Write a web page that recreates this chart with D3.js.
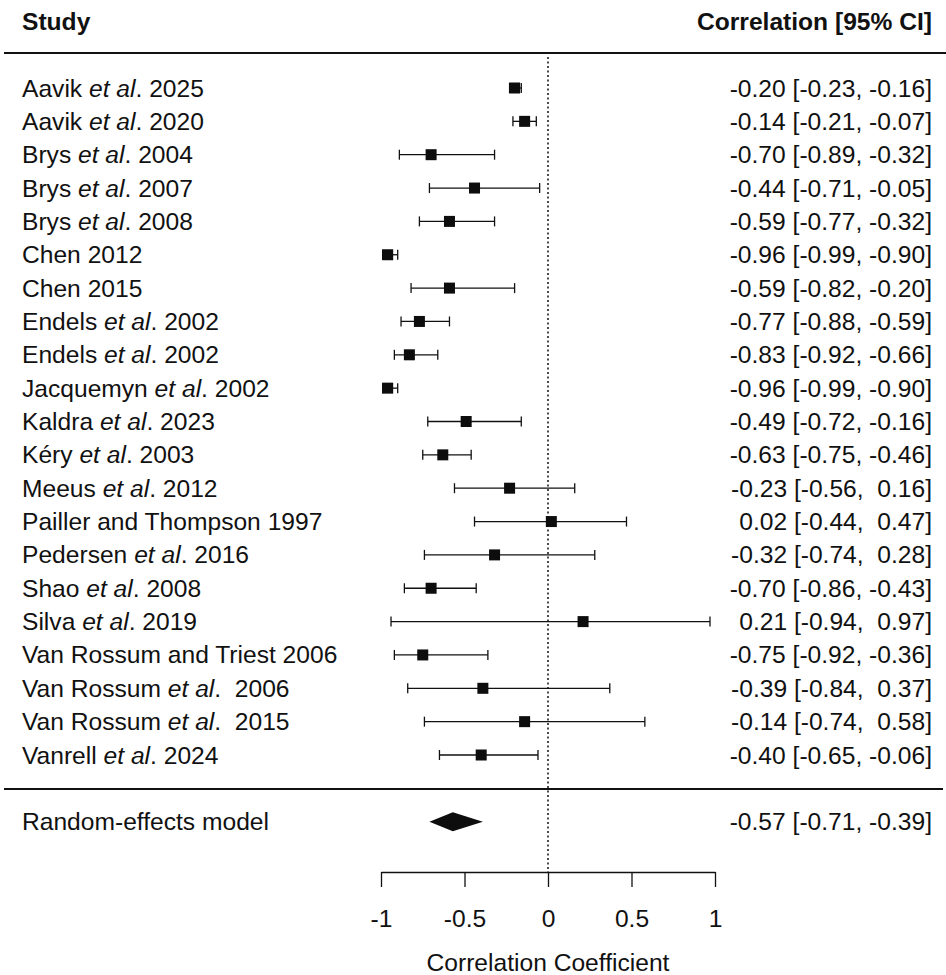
<!DOCTYPE html>
<html>
<head>
<meta charset="utf-8">
<script src="https://cdn.jsdelivr.net/npm/d3@7"></script>
<style>
  body { margin: 0; background: #fff; }
  text { font-family: "Liberation Sans", Arial, sans-serif; fill: #111; white-space: pre; }
</style>
</head>
<body>
<script>
'use strict';

// studies : auteur, "et al" en italique ou non, année
const authors = ["Aavik", "Aavik", "Brys", "Brys", "Brys", "Chen 2012", "Chen 2015", "Endels", "Endels",
  "Jacquemyn", "Kaldra", "Kéry", "Meeus", "Pailler and Thompson 1997", "Pedersen", "Shao", "Silva",
  "Van Rossum and Triest 2006", "Van Rossum", "Van Rossum", "Vanrell"];
const suffixes = [". 2025", ". 2020", ". 2004", ". 2007", ". 2008", null, null, ". 2002", ". 2002",
  ". 2002", ". 2023", ". 2003", ". 2012", null, ". 2016", ". 2008", ". 2019",
  null, ".  2006", ".  2015", ". 2024"];
const estimates = [-0.20, -0.14, -0.70, -0.44, -0.59, -0.96, -0.59, -0.77, -0.83, -0.96, -0.49, -0.63,
  -0.23, 0.02, -0.32, -0.70, 0.21, -0.75, -0.39, -0.14, -0.40];
const lower = [-0.23, -0.21, -0.89, -0.71, -0.77, -0.99, -0.82, -0.88, -0.92, -0.99, -0.72, -0.75,
  -0.56, -0.44, -0.74, -0.86, -0.94, -0.92, -0.84, -0.74, -0.65];
const upper = [-0.16, -0.07, -0.32, -0.05, -0.32, -0.90, -0.20, -0.59, -0.66, -0.90, -0.16, -0.46,
  0.16, 0.47, 0.28, -0.43, 0.97, -0.36, 0.37, 0.58, -0.06];

// modèle à effets aléatoires
const modelLabel = "Random-effects model";
const modelEst = -0.57, modelLow = -0.71, modelUp = -0.39;

const tickValues = [-1, -0.5, 0, 0.5, 1];
const tickLabels = ["-1", "-0.5", "0", "0.5", "1"];

const width = 946, height = 975;
const fs = 24.6;

const svg = d3.select("body").append("svg")
  .attr("width", width)
  .attr("height", height);

const x = d3.scaleLinear().domain([-1, 1]).range([381, 715]);
const y = d3.scaleLinear().domain([0, 20]).range([88, 755]);

// format R : largeur fixe
const fmt = v => (v < 0 ? "-" : "") + Math.abs(v).toFixed(2);
const ciText = (e, l, u) => fmt(e) + " [" + fmt(l) + "," + (u < 0 ? " " : "  ") + fmt(u) + "]";

// en-têtes
svg.append("text").attr("x", 22).attr("y", 30)
  .attr("font-size", fs).attr("font-weight", "bold").text("Study");
svg.append("text").attr("x", 932).attr("y", 30).attr("text-anchor", "end")
  .attr("font-size", fs).attr("font-weight", "bold").text("Correlation [95% CI]");

// lignes horizontales
svg.append("line").attr("x1", 4).attr("x2", width).attr("y1", 53).attr("y2", 53)
  .attr("stroke", "#111").attr("stroke-width", 2);
svg.append("line").attr("x1", 4).attr("x2", 943).attr("y1", 789).attr("y2", 789)
  .attr("stroke", "#111").attr("stroke-width", 2);

// ligne de référence à 0
svg.append("line").attr("x1", x(0)).attr("x2", x(0)).attr("y1", 57).attr("y2", 872)
  .attr("stroke", "#111").attr("stroke-width", 1.5).attr("stroke-dasharray", "2,2.5");

const rows = svg.selectAll("g.row")
  .data(estimates.map((e, i) => ({ i, e, l: lower[i], u: upper[i] })))
  .enter().append("g").classed("row", true)
  .attr("transform", d => `translate(0,${y(d.i)})`);

// libellés
const lab = rows.append("text").attr("x", 22).attr("y", 8.5).attr("font-size", fs);
lab.append("tspan").text(d => authors[d.i] + (suffixes[d.i] ? " " : ""));
lab.filter(d => suffixes[d.i]).append("tspan").attr("font-style", "italic").text("et al");
lab.filter(d => suffixes[d.i]).append("tspan").text(d => suffixes[d.i]);

rows.append("text").attr("x", 932).attr("y", 8.5).attr("font-size", fs).attr("text-anchor", "end")
  .text(d => ciText(d.e, d.l, d.u));

// intervalles
rows.append("line").attr("x1", d => x(d.l)).attr("x2", d => x(d.u))
  .attr("stroke", "#111").attr("stroke-width", 1.3);
rows.selectAll("line.cap").data(d => [d.l, d.u]).enter().append("line").classed("cap", true)
  .attr("x1", v => x(v)).attr("x2", v => x(v)).attr("y1", -5).attr("y2", 5)
  .attr("stroke", "#111").attr("stroke-width", 1.3);
rows.append("rect").attr("x", d => x(d.e) - 5.5).attr("y", -5.5)
  .attr("width", 11).attr("height", 11).attr("fill", "#0d0d0d");

// modèle
const ym = y(22);
svg.append("text").attr("x", 22).attr("y", ym + 8.5).attr("font-size", fs).text(modelLabel);
svg.append("text").attr("x", 932).attr("y", ym + 8.5).attr("font-size", fs).attr("text-anchor", "end")
  .text(ciText(modelEst, modelLow, modelUp));
svg.append("path")
  .attr("d", `M${x(modelLow)},${ym} L${x(modelEst)},${ym - 9.5} L${x(modelUp)},${ym} L${x(modelEst)},${ym + 9.5} Z`)
  .attr("fill", "#0d0d0d");

// axe des X
const axe = svg.append("g")
  .attr("transform", "translate(0,872)")
  .call(d3.axisBottom(x).tickValues(tickValues).tickFormat((d, i) => tickLabels[i])
    .tickSize(15).tickSizeOuter(0).tickPadding(23));
axe.selectAll("path, line").attr("stroke", "#111").attr("stroke-width", 1.3);
axe.selectAll("text").attr("font-size", fs).attr("font-family", "Liberation Sans, Arial, sans-serif").attr("fill", "#111");

svg.append("text").attr("x", x(0)).attr("y", 971).attr("text-anchor", "middle")
  .attr("font-size", fs).text("Correlation Coefficient");
</script>
</body>
</html>
